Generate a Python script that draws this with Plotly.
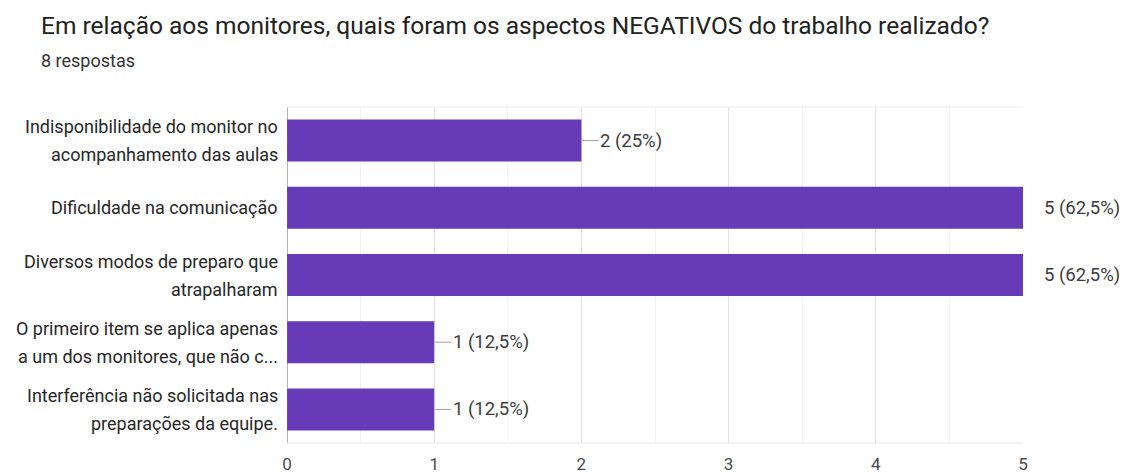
import plotly.graph_objects as go

title_text = "Em relação aos monitores, quais foram os aspectos NEGATIVOS do trabalho realizado?"
subtitle_text = "8 respostas"
categories = [
    "Indisponibilidade do monitor no<br>acompanhamento das aulas",
    "Dificuldade na comunicação",
    "Diversos modos de preparo que<br>atrapalharam",
    "O primeiro item se aplica apenas<br>a um dos monitores, que não c...",
    "Interferência não solicitada nas<br>preparações da equipe.",
]
values = [2, 5, 5, 1, 1]
labels = ["2 (25%)", "5 (62,5%)", "5 (62,5%)", "1 (12,5%)", "1 (12,5%)"]
x_ticks = [0, 1, 2, 3, 4, 5]

BAR = "#673AB7"
FONT = "Roboto, Arial, sans-serif"

# the page body has an 8px margin, so the figure is drawn 8px smaller
W, H = 1127 - 8, 473 - 8
L, R, T, B = 279, 104, 99, 30
PW, PH = W - L - R, H - T - B


def px(p):
    return (p - L) / PW


def py(p):
    return (H - B - p) / PH


fig = go.Figure()
fig.add_trace(go.Bar(
    x=values, y=categories, orientation="h",
    marker=dict(color=BAR, line=dict(width=0)),
    width=0.625, hoverinfo="skip",
))

annotations = []
shapes = []
vmax = max(values)
for cat, v, lab in zip(categories, values, labels):
    if v < vmax:
        shapes.append(dict(type="line", xref="x", yref="y", xsizemode="pixel",
                           xanchor=v, x0=1, x1=17, y0=cat, y1=cat,
                           line=dict(color="#9e9e9e", width=1)))
        shift = 17
    else:
        shift = 19
    annotations.append(dict(x=v, y=cat, xref="x", yref="y", text=lab,
                            showarrow=False, xanchor="left", yanchor="middle",
                            xshift=shift,
                            font=dict(family=FONT, size=18.5, color="#3c3c3c")))
    lines = cat.split("<br>")
    n = len(lines)
    for i, ln in enumerate(lines):
        off = (i - (n - 1) / 2) * 28
        annotations.append(dict(x=0, y=cat, xref="paper", yref="y", text=ln,
                                showarrow=False, xanchor="right", yanchor="middle",
                                xshift=-7, yshift=-off,
                                font=dict(family=FONT, size=18, color="#262626")))

annotations.append(dict(x=px(31), y=py(17.5), xref="paper", yref="paper",
                        text=title_text, showarrow=False, xanchor="left",
                        yanchor="middle",
                        font=dict(family=FONT, size=24.5, color="#212121")))
annotations.append(dict(x=px(31), y=py(52), xref="paper", yref="paper",
                        text=subtitle_text, showarrow=False, xanchor="left",
                        yanchor="middle",
                        font=dict(family=FONT, size=18, color="#333333")))

fig.update_layout(
    width=W, height=H,
    margin=dict(l=L, r=R, t=T, b=B, autoexpand=False),
    paper_bgcolor="white", plot_bgcolor="white",
    showlegend=False,
    font=dict(family=FONT, color="#333333"),
    xaxis=dict(
        range=[0, 5], tickvals=x_ticks, ticktext=[str(t) for t in x_ticks],
        showgrid=True, gridcolor="#e3e3e3", gridwidth=1,
        minor=dict(dtick=0.5, showgrid=True, gridcolor="#f2f2f2"),
        zeroline=False, showline=False, ticks="",
        tickfont=dict(family=FONT, size=17, color="#4a4a4a"),
        ticklabelstandoff=9, automargin=False, fixedrange=True,
    ),
    yaxis=dict(
        categoryorder="array", categoryarray=categories[::-1],
        showgrid=False, zeroline=False, showticklabels=False,
        showline=False, ticks="", automargin=False, fixedrange=True,
    ),
    annotations=annotations,
    shapes=shapes + [
        dict(type="line", xref="x", yref="paper", x0=0, x1=0, y0=0, y1=1,
             line=dict(color="#666666", width=1)),
        dict(type="line", xref="paper", yref="paper", x0=0, x1=1, y0=1, y1=1,
             line=dict(color="#ededed", width=1)),
        dict(type="line", xref="paper", yref="paper", x0=0, x1=1, y0=0, y1=0,
             line=dict(color="#e6e6e6", width=1)),
    ],
)

fig.write_html("out.html")
